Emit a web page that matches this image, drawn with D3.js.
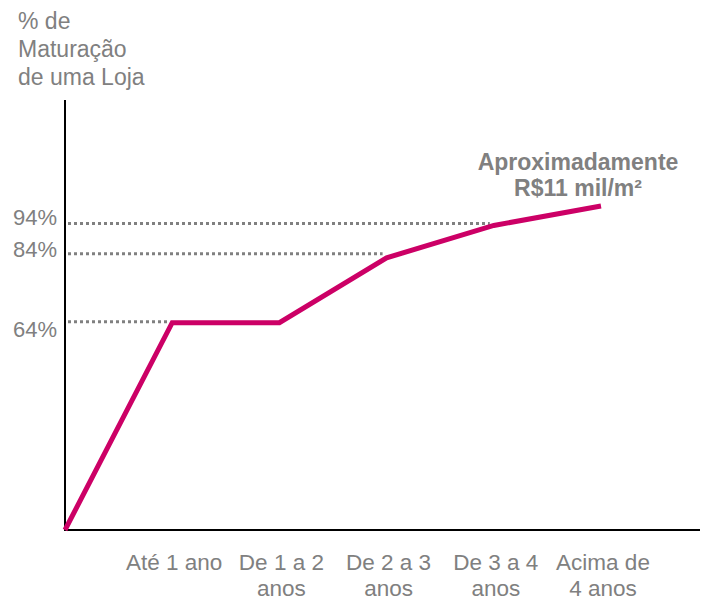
<!DOCTYPE html>
<html>
<head>
<meta charset="utf-8">
<script src="https://cdn.jsdelivr.net/npm/d3@7"></script>
<style>
  body { margin: 0; background: #fff; }
  text { font-family: "Liberation Sans", Arial, sans-serif; fill: #808080; }
</style>
</head>
<body>
<div id="chart"></div>
<script>
// dados
const categories = ["", "Até 1 ano", "De 1 a 2|anos", "De 2 a 3|anos", "De 3 a 4|anos", "Acima de|4 anos"];
const maturacao = [0, 64, 64, 84, 94, 100];
const refLines = [94, 84, 64];
const refIndex = [4, 3, 1];
const titleLines = ["% de", "Maturação", "de uma Loja"];
const annotation = ["Aproximadamente", "R$11 mil/m²"];

const width = 708, height = 601;

const svg = d3.select("#chart").append("svg")
    .attr("width", width)
    .attr("height", height);

// escalas
const x = d3.scaleLinear().domain([0, 5]).range([65, 601]);
const y = d3.scaleLinear().domain([0, 100]).range([530, 206]);

// titulo do eixo Y
svg.append("text")
    .attr("x", 18)
    .attr("y", 29)
    .style("font-size", "23px")
  .selectAll("tspan")
  .data(titleLines)
  .join("tspan")
    .attr("x", 18)
    .attr("dy", (d, i) => i === 0 ? 0 : 28)
    .text(d => d);

// linhas pontilhadas
svg.selectAll(".ref")
  .data(refLines)
  .join("line")
    .attr("class", "ref")
    .attr("x1", 68)
    .attr("x2", (d, i) => x(refIndex[i]) - 4)
    .attr("y1", (d, i) => y(d) + [-2, -4, -1][i])
    .attr("y2", (d, i) => y(d) + [-2, -4, -1][i])
    .style("stroke", "#808080")
    .style("stroke-width", 3)
    .style("stroke-dasharray", "3,3");

// rotulos do eixo Y
svg.selectAll(".ylab")
  .data(refLines)
  .join("text")
    .attr("class", "ylab")
    .attr("x", 57)
    .attr("y", (d, i) => y(d) + [0, -1, 14][i])
    .attr("text-anchor", "end")
    .style("font-size", "22px")
    .text(d => d + "%");

// eixos
svg.append("line")
    .attr("x1", 65).attr("x2", 65)
    .attr("y1", 100).attr("y2", 531)
    .style("stroke", "#000").style("stroke-width", 2);
svg.append("line")
    .attr("x1", 64).attr("x2", 700)
    .attr("y1", 530).attr("y2", 530)
    .style("stroke", "#000").style("stroke-width", 2);

// rotulos do eixo X
const xl = svg.selectAll(".xlab")
  .data(categories)
  .join("text")
    .attr("class", "xlab")
    .attr("text-anchor", "middle")
    .style("font-size", "22.5px")
    .attr("transform", (d, i) => "translate(" + (x(i) + 2) + ",570)");

xl.selectAll("tspan")
  .data(d => d.split("|"))
  .join("tspan")
    .attr("x", 0)
    .attr("dy", (d, i) => i === 0 ? 0 : 26)
    .text(d => d);

// linha principal
const line = d3.line()
    .x((d, i) => x(i))
    .y(d => y(d));

svg.append("path")
    .attr("d", line(maturacao))
    .style("fill", "none")
    .style("stroke", "#CC0066")
    .style("stroke-width", 5);

// anotacao
svg.append("text")
    .attr("text-anchor", "middle")
    .attr("transform", "translate(578,170)")
    .style("font-size", "23px")
    .style("font-weight", "bold")
  .selectAll("tspan")
  .data(annotation)
  .join("tspan")
    .attr("x", 0)
    .attr("dy", (d, i) => i === 0 ? 0 : 26)
    .text(d => d);
</script>
</body>
</html>
